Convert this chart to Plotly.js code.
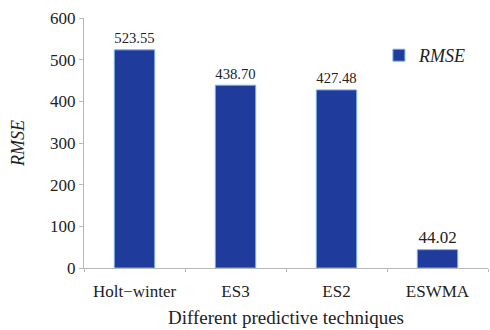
<!DOCTYPE html>
<html>
<head>
<meta charset="utf-8">
<script src="https://cdn.plot.ly/plotly-3.0.1.min.js"></script>
<style>
  html, body { margin: 0; padding: 0; background: #ffffff; }
  #chart { width: 490px; height: 330px; }
  /* keep every label of the chart in the serif face */
  #chart text { font-family: 'Liberation Serif' !important; }
</style>
</head>
<body>
<div id="chart"></div>
<script>
// RMSE of each forecasting technique
const techniques = ['Holt−winter', 'ES3', 'ES2', 'ESWMA'];
const rmseValues = [523.55, 438.70, 427.48, 44.02];
const yTicks = [0, 100, 200, 300, 400, 500, 600];

const serif = 'Liberation Serif';
const ink = '#222222';

const trace = {
  type: 'bar',
  name: '<i>RMSE</i>',
  x: techniques,
  y: rmseValues,
  text: rmseValues.map(v => v.toFixed(2)),
  textposition: 'outside',
  cliponaxis: false,
  textfont: { family: serif, size: 17, color: ink },
  marker: { color: '#1f3b9c', line: { color: '#7fb2e5', width: 1 } },
  hoverinfo: 'skip'
};

const layout = {
  width: 490,
  height: 330,
  margin: { l: 84, r: 2, t: 18, b: 62 },
  paper_bgcolor: '#ffffff',
  plot_bgcolor: '#ffffff',
  bargap: 0.6,
  showlegend: true,
  legend: {
    x: 0.73, y: 0.85, xanchor: 'left', yanchor: 'middle',
    font: { family: serif, size: 18, color: ink },
    bgcolor: 'rgba(0,0,0,0)', itemwidth: 30
  },
  xaxis: {
    showline: true, linecolor: '#b8b8b8', linewidth: 1,
    ticks: 'outside', tickson: 'boundaries', ticklen: 3, tickcolor: '#b8b8b8',
    ticklabelstandoff: 8,
    tickfont: { family: serif, size: 17, color: ink },
    title: { text: 'Different predictive techniques', standoff: 10,
             font: { family: serif, size: 19, color: ink } },
    showgrid: false, zeroline: false, fixedrange: true
  },
  yaxis: {
    range: [0, 600],
    tickvals: yTicks,
    showline: true, linecolor: '#b8b8b8', linewidth: 1,
    ticks: 'outside', ticklen: 4, tickcolor: '#b8b8b8',
    tickfont: { family: serif, size: 17, color: ink },
    title: { text: '<i>RMSE</i>', standoff: 20,
             font: { family: serif, size: 18, color: ink } },
    showgrid: false, zeroline: false, fixedrange: true
  }
};

Plotly.newPlot('chart', [trace], layout, { displayModeBar: false, staticPlot: true });
</script>
</body>
</html>
